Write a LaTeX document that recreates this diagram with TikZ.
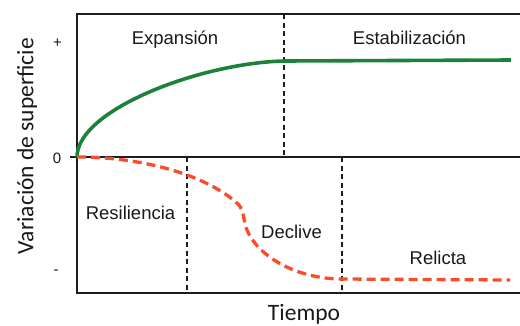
\documentclass[tikz,border=0pt]{standalone}
\usepackage{fontspec}
\setmainfont{Liberation Sans}
\newfontfamily\calib{Carlito}
\definecolor{axisc}{RGB}{30,30,30}
\definecolor{greenc}{RGB}{28,130,58}
\definecolor{redc}{RGB}{250,75,42}
\begin{document}
\begin{tikzpicture}[x=1pt,y=-1pt,
  frame/.style={line width=1.8pt, draw=axisc},
  midaxis/.style={line width=1.2pt, draw=axisc},
  divider/.style={line width=1.4pt, draw=axisc, dash pattern=on 5pt off 3.5pt},
  growth/.style={line width=3.6pt, draw=greenc},
  loss/.style={line width=3.3pt, draw=redc, dash pattern=on 9pt off 5pt},
  phase/.style={font=\fontsize{18.5}{20}\selectfont, text=black!90, inner sep=0pt, anchor=base},
  ticklbl/.style={font=\fontsize{15}{17}\selectfont, text=black!90, inner sep=0pt},
  axtitle/.style={font=\calib\fontsize{23.5}{26}\selectfont, text=black!90, inner sep=0pt}]
\useasboundingbox (0,0) rectangle (520,325);
% frame
\coordinate (tl) at (77,14);
\coordinate (bl) at (77,293);
\coordinate (tr) at (520,14);
\coordinate (br) at (520,293);
\coordinate (zl) at (70,157);
\coordinate (zr) at (520,157);
\draw[frame] (tr) -- (tl) -- (bl) -- (br);
\draw[midaxis] (zl) -- (zr);
% dividers
\coordinate (d1a) at (284,14);  \coordinate (d1b) at (284,157);
\coordinate (d2a) at (187,157); \coordinate (d2b) at (187,293);
\coordinate (d3a) at (342,157); \coordinate (d3b) at (342,293);
\draw[divider] (d1a) -- (d1b);
\draw[divider] (d2a) -- (d2b);
\draw[divider] (d3a) -- (d3b);
% curves
\coordinate (o) at (77,157);
\coordinate (g1) at (284,61);
\coordinate (g2) at (511,60);
\draw[growth] (o) .. controls (77,110) and (200,63) .. (g1) -- (g2);
\coordinate (r1) at (238,204);
\coordinate (r2) at (247,230);
\coordinate (r3) at (342,279);
\coordinate (r4) at (510,280);
\draw[loss] (o) .. controls (150,157) and (210,178) .. (r1)
  .. controls (245,211) and (243,222) .. (r2)
  .. controls (257,255) and (295,279) .. (r3) -- (r4);
% labels
\node[phase] (expansion) at (175,44) {Expansión};
\node[phase] (estab) at (409.5,44) {Estabilización};
\node[phase] (resil) at (130.5,219) {Resiliencia};
\node[phase] (declive) at (291.5,238) {Declive};
\node[phase] (relicta) at (438,264) {Relicta};
\node[ticklbl] (plus) at (57.5,43) {+};
\node[ticklbl] (zero) at (57,158) {0};
\node[ticklbl] (minus) at (56,272) {-};
\node[axtitle, anchor=base] (tiempo) at (304,320) {Tiempo};
\node[axtitle, rotate=90] (variacion) at (27,146) {Variación de superficie};
\end{tikzpicture}
\end{document}
